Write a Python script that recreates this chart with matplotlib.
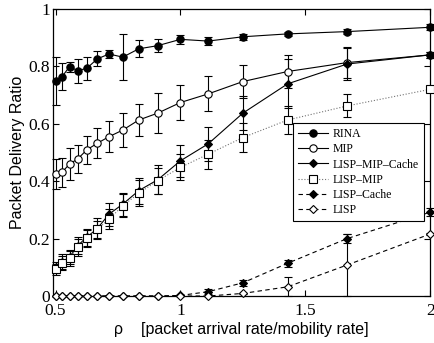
import matplotlib
matplotlib.use('Agg')
import matplotlib.pyplot as plt

# packet arrival rate / mobility rate
rho = [0.5, 0.526, 0.556, 0.588, 0.625, 0.667, 0.714, 0.769, 0.833, 0.909,
       1.0, 1.111, 1.25, 1.429, 1.667, 2.0]

rina = [0.749, 0.764, 0.799, 0.785, 0.793, 0.826, 0.843, 0.832, 0.861, 0.872,
        0.894, 0.888, 0.903, 0.913, 0.921, 0.936]
rina_err = [0.082, 0.046, 0.017, 0.042, 0.04, 0.026, 0.013, 0.081, 0.03, 0.023,
            0.015, 0.014, 0.01, 0.008, 0.008, 0.01]

mip = [0.424, 0.431, 0.46, 0.477, 0.509, 0.532, 0.555, 0.578, 0.613, 0.637,
       0.674, 0.704, 0.747, 0.782, 0.813, 0.84]
mip_err = [0.052, 0.05, 0.055, 0.05, 0.05, 0.053, 0.055, 0.058, 0.057, 0.07,
           0.061, 0.061, 0.058, 0.059, 0.055, 0.01]

lmc = [0.1, 0.12, 0.135, 0.175, 0.205, 0.235, 0.285, 0.32, 0.367, 0.405,
       0.471, 0.53, 0.637, 0.739, 0.808, 0.84]
lmc_err = [0.02, 0.025, 0.025, 0.03, 0.03, 0.035, 0.04, 0.04, 0.045, 0.05,
           0.055, 0.06, 0.06, 0.085, 0.055, 0.01]

lm = [0.093, 0.116, 0.131, 0.17, 0.201, 0.232, 0.268, 0.314, 0.358, 0.402,
      0.448, 0.494, 0.552, 0.613, 0.662, 0.72]
lm_err = [0.02, 0.025, 0.025, 0.03, 0.03, 0.03, 0.035, 0.04, 0.045, 0.045,
          0.045, 0.05, 0.05, 0.05, 0.04, 0.01]

lc = [0, 0, 0, 0, 0, 0, 0, 0, 0, 0,
      0.002, 0.015, 0.046, 0.114, 0.2, 0.292]
lc_err = [0, 0, 0, 0, 0, 0, 0, 0, 0, 0,
          0.003, 0.008, 0.01, 0.012, 0.015, 0.015]

lisp = [0, 0, 0, 0, 0, 0, 0, 0, 0, 0,
        0, 0, 0.009, 0.032, 0.108, 0.216]
lisp_err = [0, 0, 0, 0, 0, 0, 0, 0, 0, 0,
            0, 0, 0.003, 0.033, 0.108, 0.005]

names = ['RINA', 'MIP', 'LISP\u2013MIP\u2013Cache', 'LISP\u2013MIP',
         'LISP\u2013Cache', 'LISP']

fig = plt.figure(figsize=(4.35, 3.43), dpi=100)
ax = fig.add_axes([0.122, 0.137, 0.867, 0.837])

series = [
    (rina, rina_err, 'o', 'k', '-', names[0]),
    (mip, mip_err, 'o', 'w', '-', names[1]),
    (lmc, lmc_err, 'D', 'k', '-', names[2]),
    (lm, lm_err, 's', 'w', ':', names[3]),
    (lc, lc_err, 'D', 'k', '--', names[4]),
    (lisp, lisp_err, 'D', 'w', '--', names[5]),
]

for y, e, m, fc, ls, lab in series:
    ax.errorbar(rho, y, yerr=e, fmt='none', ecolor='k', elinewidth=0.8,
                capsize=3, capthick=0.8, clip_on=False, zorder=2)
for y, e, m, fc, ls, lab in series:
    ms = 5.3 if m in ('o', 's') else 4.4
    lc_ = '0.45' if ls == ':' else 'k'
    ln, = ax.plot(rho, y, linestyle=ls, color=lc_, linewidth=0.8,
                  marker=m, markersize=ms, markerfacecolor=fc,
                  markeredgecolor='k', markeredgewidth=0.8,
                  clip_on=False, zorder=3, label=lab)
    if ls == '--':
        ln.set_dashes((4, 3))

ax.set_xlim(0.49, 2.0)
ax.set_ylim(0, 1)
ax.set_xticks([0.5, 1, 1.5, 2])
ax.set_xticklabels(['0.5', '1', '1.5', '2'])
ax.set_yticks([0, 0.2, 0.4, 0.6, 0.8, 1])
ax.set_yticklabels(['0', '0.2', '0.4', '0.6', '0.8', '1'])
ax.tick_params(direction='in', top=True, right=True, length=4, width=0.8,
               labelsize=12.5, pad=2)
ax.tick_params(axis='x', pad=5)
for lbl in ax.get_xticklabels() + ax.get_yticklabels():
    lbl.set_family('Liberation Serif')
for sp in ax.spines.values():
    sp.set_linewidth(0.9)

ax.set_xlabel('\u03c1    [packet arrival rate/mobility rate]',
              family='Liberation Sans', fontsize=11.5, labelpad=2)
ax.set_ylabel('Packet Delivery Ratio', family='Liberation Sans',
              fontsize=11.5, labelpad=3)

leg = ax.legend(loc='upper left', bbox_to_anchor=(0.636, 0.602),
                prop={'family': 'Liberation Serif', 'size': 8.5},
                frameon=True, fancybox=False, edgecolor='k', framealpha=1,
                handlelength=2.6, borderpad=0.4, labelspacing=0.28,
                handletextpad=0.4, borderaxespad=0)
leg.get_frame().set_linewidth(0.8)

fig.savefig('out.png', dpi=100)
